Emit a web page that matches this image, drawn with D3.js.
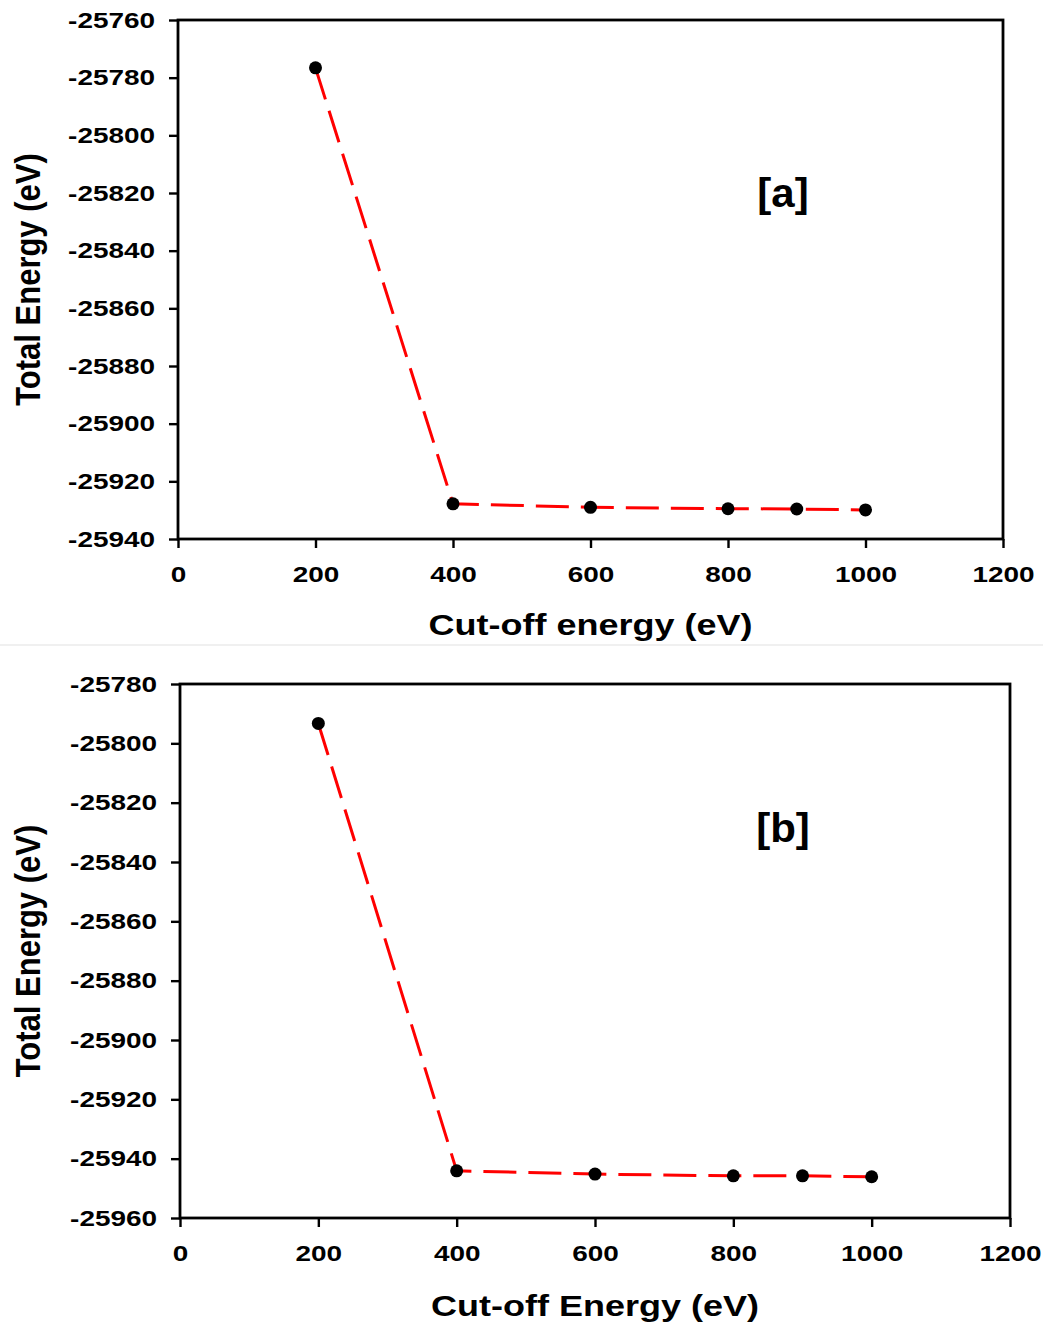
<!DOCTYPE html>
<html>
<head>
<meta charset="utf-8">
<script src="https://cdnjs.cloudflare.com/ajax/libs/d3/7.8.5/d3.min.js"></script>
<style>
  body { margin: 0; background: #fff; }
  text { font-family: "Liberation Sans", Arial, sans-serif; font-weight: bold; fill: #000; }
</style>
</head>
<body>
<svg id="chart" width="1043" height="1323"></svg>
<script>
// data
const cutoff = [200, 400, 600, 800, 900, 1000];
const energyA = [-25776.6, -25927.8, -25929.0, -25929.5, -25929.6, -25929.9];
const energyB = [-25793.3, -25944.1, -25945.2, -25945.8, -25945.8, -25946.1];
const xTicks = [0, 200, 400, 600, 800, 1000, 1200];
const yTicksA = [-25760, -25780, -25800, -25820, -25840, -25860, -25880, -25900, -25920, -25940];
const yTicksB = [-25780, -25800, -25820, -25840, -25860, -25880, -25900, -25920, -25940, -25960];

let svg = d3.select("#chart");

// faint seam between the two pictures
svg.append("line")
    .attr("x1", 0).attr("x2", 1043)
    .attr("y1", 645).attr("y2", 645)
    .attr("stroke", "#f0f0f0")
    .attr("stroke-width", 2);

let sx = 1.27; // the original is stretched sideways

function drawPanel(o) {
    let x = d3.scaleLinear().domain([0, 1200]).range([o.left, o.right]);
    let y = d3.scaleLinear()
        .domain([o.yTicks[o.yTicks.length - 1], o.yTicks[0]])
        .range([o.bottom, o.top]);

    let g = svg.append("g");

    let ya = g.append("g")
        .attr("transform", "translate(" + o.left + ",0)")
        .call(d3.axisLeft(y).tickValues(o.yTicks).tickSize(9).tickPadding(14).tickFormat(d => String(d)));
    ya.select(".domain").remove();
    ya.selectAll("line").attr("stroke-width", 2.4);
    ya.selectAll("text")
        .attr("font-size", 22)
        .attr("font-family", null)
        .attr("x", -23 / sx)
        .attr("transform", "scale(" + sx + ",1)");

    let xa = g.append("g")
        .attr("transform", "translate(0," + o.bottom + ")")
        .call(d3.axisBottom(x).tickValues(xTicks).tickSize(9).tickPadding(18).tickFormat(d => String(d)));
    xa.select(".domain").remove();
    xa.selectAll("line").attr("stroke-width", 2.4);
    xa.selectAll("text")
        .attr("font-size", 22)
        .attr("font-family", null)
        .attr("transform", "scale(" + sx + ",1)");

    g.append("rect")
        .attr("x", o.left)
        .attr("y", o.top)
        .attr("width", o.right - o.left)
        .attr("height", o.bottom - o.top)
        .attr("fill", "none")
        .attr("stroke", "#000")
        .attr("stroke-width", 2.8);

    let line = d3.line()
        .x((d, i) => x(cutoff[i]))
        .y(d => y(d));

    g.append("path")
        .datum(o.values)
        .attr("d", line)
        .attr("fill", "none")
        .attr("stroke", "#ff0000")
        .attr("stroke-width", 3)
        .attr("stroke-dasharray", "33,12");

    g.selectAll(".dot")
        .data(o.values)
        .enter().append("circle")
        .attr("class", "dot")
        .attr("cx", (d, i) => x(cutoff[i]))
        .attr("cy", d => y(d))
        .attr("r", 6.5)
        .attr("fill", "#000");

    let cx = (o.left + o.right) / 2;
    g.append("text")
        .attr("transform", "translate(" + cx + "," + o.xTitleY + ") scale(1.2,1)")
        .attr("text-anchor", "middle")
        .attr("font-size", 30)
        .text(o.xTitle);

    let cy = (o.top + o.bottom) / 2;
    g.append("text")
        .attr("transform", "translate(40," + cy + ") scale(1.15,1) rotate(-90)")
        .attr("text-anchor", "middle")
        .attr("font-size", 31)
        .text("Total Energy (eV)");

    g.append("text")
        .attr("transform", "translate(783," + o.tagY + ") scale(1.05,1)")
        .attr("text-anchor", "middle")
        .attr("font-size", 40)
        .text(o.tag);
}

drawPanel({
    left: 178, right: 1003, top: 20, bottom: 539,
    yTicks: yTicksA, values: energyA,
    xTitle: "Cut-off energy (eV)", xTitleY: 635,
    tag: "[a]", tagY: 207
});

drawPanel({
    left: 180, right: 1010, top: 684, bottom: 1218,
    yTicks: yTicksB, values: energyB,
    xTitle: "Cut-off Energy (eV)", xTitleY: 1316,
    tag: "[b]", tagY: 842
});
</script>
</body>
</html>
